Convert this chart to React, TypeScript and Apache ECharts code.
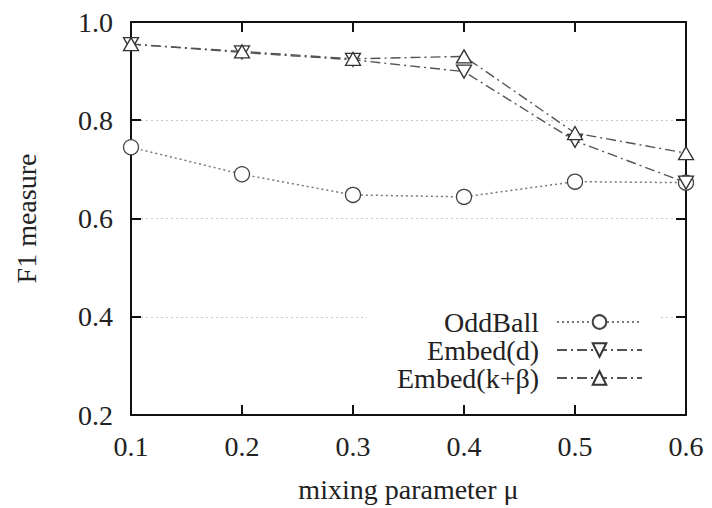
import React, { useEffect, useRef } from "react";
import * as echarts from "echarts";

const xCategories = ["0.1", "0.2", "0.3", "0.4", "0.5", "0.6"];
const oddBall = [0.745, 0.69, 0.648, 0.644, 0.675, 0.673];
const embedD = [0.955, 0.938, 0.923, 0.899, 0.758, 0.673];
const embedKB = [0.955, 0.94, 0.925, 0.93, 0.774, 0.733];
const seriesNames = ["OddBall", "Embed(d)", "Embed(k+β)"];

const FONT = "'Liberation Serif', 'DejaVu Serif', serif";
const TEXT = "#222";
const FRAME = "#111";
const FS = 28;

export default function App() {
  const ref = useRef<HTMLDivElement>(null);
  useEffect(() => {
    if (!ref.current) return;
    const chart = echarts.init(ref.current, null, { renderer: "svg" });
    const axisLine = { show: true, lineStyle: { color: FRAME, width: 2 } };
    const axisTick = { show: true, inside: true, length: 10, lineStyle: { color: FRAME, width: 2 } };
    chart.setOption({
      animation: false,
      backgroundColor: "#fff",
      textStyle: { fontFamily: FONT },
      grid: { left: 131, right: 26, top: 22, bottom: 91, containLabel: false },
      legend: {
        orient: "vertical",
        align: "right",
        right: 54,
        top: 304,
        itemWidth: 85,
        itemHeight: 17,
        itemGap: 0,
        padding: [4, 15, 4, 30],
        backgroundColor: "#fff",
        textStyle: { fontFamily: FONT, fontSize: FS, color: TEXT, padding: [0, 13, 0, 0] },
        data: seriesNames,
      },
      xAxis: [
        {
          type: "category",
          data: xCategories,
          boundaryGap: false,
          position: "bottom",
          axisLine,
          axisTick: { ...axisTick, alignWithLabel: true },
          axisLabel: { fontFamily: FONT, fontSize: FS, color: TEXT, margin: 17 },
          splitLine: { show: false },
          name: "mixing parameter μ",
          nameLocation: "middle",
          nameGap: 60,
          nameTextStyle: { fontFamily: FONT, fontSize: FS, color: TEXT },
        },
        {
          type: "category",
          data: xCategories,
          boundaryGap: false,
          position: "top",
          axisLine,
          axisTick,
          axisLabel: { show: false },
          splitLine: { show: false },
        },
      ],
      yAxis: [
        {
          type: "value",
          min: 0.2,
          max: 1.0,
          interval: 0.2,
          position: "left",
          axisLine,
          axisTick,
          axisLabel: {
            fontFamily: FONT,
            fontSize: FS,
            color: TEXT,
            margin: 18,
            formatter: (v: number) => v.toFixed(1),
          },
          splitLine: { show: true, lineStyle: { color: "#c8c8c8", type: [2, 3], width: 1 } },
          name: "F1 measure",
          nameLocation: "middle",
          nameGap: 91,
          nameTextStyle: { fontFamily: FONT, fontSize: FS, color: TEXT },
        },
        {
          type: "value",
          min: 0.2,
          max: 1.0,
          interval: 0.2,
          position: "right",
          axisLine,
          axisTick,
          axisLabel: { show: false },
          splitLine: { show: false },
        },
      ],
      series: [
        {
          name: seriesNames[0],
          type: "line",
          data: oddBall,
          symbol: "circle",
          symbolSize: 15,
          itemStyle: { color: "#fff", borderColor: "#444", borderWidth: 1.3 },
          lineStyle: { color: "#777", width: 1.5, type: [2, 3] },
          z: 3,
        },
        {
          name: seriesNames[1],
          type: "line",
          data: embedD,
          symbol: "path://M0,0 L12,0 L6,11 Z",
          symbolSize: [15, 13],
          itemStyle: { color: "#fff", borderColor: "#333", borderWidth: 1.3 },
          lineStyle: { color: "#555", width: 1.4, type: [10, 4, 2, 4] },
          z: 4,
        },
        {
          name: seriesNames[2],
          type: "line",
          data: embedKB,
          symbol: "path://M6,0 L12,11 L0,11 Z",
          symbolSize: [15, 13],
          itemStyle: { color: "#fff", borderColor: "#333", borderWidth: 1.3 },
          lineStyle: { color: "#555", width: 1.4, type: [10, 4, 2, 4] },
          z: 5,
        },
      ],
    });
    return () => chart.dispose();
  }, []);
  return <div ref={ref} style={{ width: 712, height: 508, position: "absolute", left: 0, top: 0 }} />;
}
